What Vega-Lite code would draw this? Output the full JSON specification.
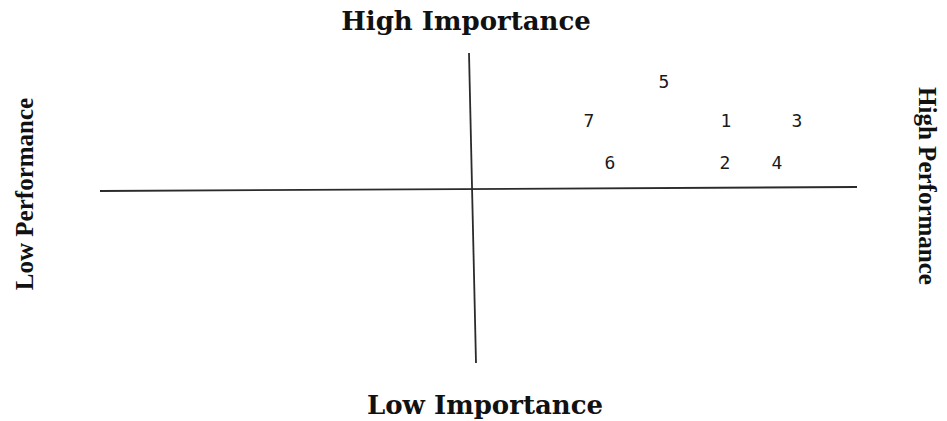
{
  "$schema": "https://vega.github.io/schema/vega-lite/v6.json",
  "width": 947,
  "height": 421,
  "autosize": {"type": "fit", "contains": "padding"},
  "padding": 0,
  "background": "white",
  "config": {"view": {"stroke": null}},
  "datasets": {
    "axesLines": [
      {"name": "performance", "x1": -3.72, "y1": -0.02, "x2": 3.85, "y2": 0.02},
      {"name": "importance", "x1": -0.03, "y1": 1.36, "x2": 0.04, "y2": -1.74}
    ],
    "items": [
      {"id": "5", "performance": 1.92, "importance": 1.06},
      {"id": "7", "performance": 1.17, "importance": 0.67},
      {"id": "1", "performance": 2.54, "importance": 0.67},
      {"id": "3", "performance": 3.25, "importance": 0.67},
      {"id": "6", "performance": 1.38, "importance": 0.25},
      {"id": "2", "performance": 2.53, "importance": 0.25},
      {"id": "4", "performance": 3.05, "importance": 0.25}
    ],
    "horizontalLabels": [
      {"label": "High Importance", "x": -0.06, "y": 1.67},
      {"label": "Low Importance", "x": 0.13, "y": -2.17}
    ],
    "leftLabel": [{"label": "Low Performance", "x": -4.47, "y": -0.05}],
    "rightLabel": [{"label": "High Performance", "x": 4.55, "y": 0.03}]
  },
  "resolve": {"scale": {"x": "shared", "y": "shared"}},
  "layer": [
    {
      "data": {"name": "axesLines"},
      "mark": {"type": "rule", "color": "#2b2b2b", "strokeWidth": 1.8},
      "encoding": {
        "x": {"field": "x1", "type": "quantitative", "scale": {"domain": [-4.72, 4.75], "nice": false, "zero": false}, "axis": null},
        "y": {"field": "y1", "type": "quantitative", "scale": {"domain": [-2.32, 1.89], "nice": false, "zero": false}, "axis": null},
        "x2": {"field": "x2"},
        "y2": {"field": "y2"}
      }
    },
    {
      "data": {"name": "items"},
      "mark": {"type": "text", "font": "DejaVu Sans Mono", "fontSize": 18, "color": "#1a1a1a", "baseline": "middle", "align": "center"},
      "encoding": {
        "x": {"field": "performance", "type": "quantitative", "axis": null},
        "y": {"field": "importance", "type": "quantitative", "axis": null},
        "text": {"field": "id", "type": "nominal"}
      }
    },
    {
      "data": {"name": "horizontalLabels"},
      "mark": {"type": "text", "font": "DejaVu Serif", "fontWeight": "bold", "fontSize": 26, "color": "#111111", "baseline": "middle", "align": "center"},
      "encoding": {
        "x": {"field": "x", "type": "quantitative", "axis": null},
        "y": {"field": "y", "type": "quantitative", "axis": null},
        "text": {"field": "label", "type": "nominal"}
      }
    },
    {
      "data": {"name": "leftLabel"},
      "mark": {"type": "text", "font": "Liberation Serif", "fontWeight": "bold", "fontSize": 25, "color": "#111111", "baseline": "middle", "align": "center", "angle": 270},
      "encoding": {
        "x": {"field": "x", "type": "quantitative", "axis": null},
        "y": {"field": "y", "type": "quantitative", "axis": null},
        "text": {"field": "label", "type": "nominal"}
      }
    },
    {
      "data": {"name": "rightLabel"},
      "mark": {"type": "text", "font": "Liberation Serif", "fontWeight": "bold", "fontSize": 25, "color": "#111111", "baseline": "middle", "align": "center", "angle": 90},
      "encoding": {
        "x": {"field": "x", "type": "quantitative", "axis": null},
        "y": {"field": "y", "type": "quantitative", "axis": null},
        "text": {"field": "label", "type": "nominal"}
      }
    }
  ]
}
